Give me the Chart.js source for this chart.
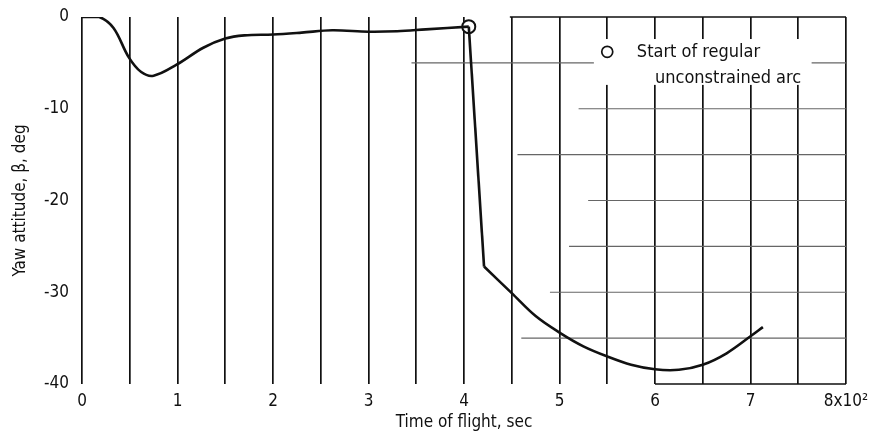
<!DOCTYPE html>
<html>
<head>
<meta charset="utf-8">
<script src="https://cdn.jsdelivr.net/npm/chart.js@4.4.1/dist/chart.umd.min.js"></script>
<style>
  html, body { margin: 0; padding: 0; background: #fff; }
  #wrap { width: 880px; height: 440px; }
</style>
</head>
<body>
<div id="wrap"><canvas id="myChart" width="880" height="440"></canvas></div>
<script>
// time of flight in units of 10^2 sec, yaw attitude in deg
const constrainedTime = [0, 0.18, 0.33, 0.49, 0.62, 0.75, 0.99, 1.27, 1.5, 1.7, 2.0, 2.3, 2.62, 3.0, 3.3, 3.6, 4.05];
const constrainedYaw  = [0, 0, -1.2, -4.4, -6.0, -6.4, -5.2, -3.35, -2.35, -2.0, -1.9, -1.7, -1.45, -1.6, -1.55, -1.35, -1.05];

const jumpTime = [4.05, 4.21];
const jumpYaw  = [-1.05, -27.2];

const arcTime = [4.21, 4.5, 4.75, 5.0, 5.25, 5.5, 5.75, 6.0, 6.25, 6.5, 6.75, 7.0, 7.13];
const arcYaw  = [-27.2, -30.1, -32.6, -34.4, -35.9, -37.0, -37.9, -38.4, -38.45, -37.9, -36.65, -34.8, -33.8];

const startTime = [4.05];
const startYaw  = [-1.05];

const xTickLabels = ['0', '1', '2', '3', '4', '5', '6', '7', '8x10\u00B2'];
const yTickValues = [0, -10, -20, -30, -40];

const legendText = ['Start of regular', 'unconstrained arc'];

const FONT = "'Liberation Sans Narrow', 'DejaVu Sans Condensed', 'Arial Narrow', sans-serif";

const toPoints = (xs, ys) => xs.map((x, i) => ({ x: x, y: ys[i] }));

// partial horizontal rules, like on the original graph paper: [yValue, startX]
const hRules = [[-5, 3.45], [-10, 5.2], [-15, 4.56], [-20, 5.3], [-25, 5.1], [-30, 4.9], [-35, 4.6]];

const paperPlugin = {
  id: 'paper',
  beforeDatasetsDraw(chart) {
    const { ctx, scales: { x, y } } = chart;
    ctx.save();
    ctx.strokeStyle = '#666';
    ctx.lineWidth = 1.2;
    hRules.forEach(([v, from]) => {
      ctx.beginPath();
      ctx.moveTo(x.getPixelForValue(from), y.getPixelForValue(v));
      ctx.lineTo(x.getPixelForValue(8), y.getPixelForValue(v));
      ctx.stroke();
    });
    ctx.strokeStyle = '#111';
    ctx.lineWidth = 1.6;
    ctx.beginPath();
    ctx.moveTo(x.getPixelForValue(4.48), y.getPixelForValue(0));
    ctx.lineTo(x.getPixelForValue(8), y.getPixelForValue(0));
    ctx.moveTo(x.getPixelForValue(6.0), y.getPixelForValue(-40));
    ctx.lineTo(x.getPixelForValue(8), y.getPixelForValue(-40));
    ctx.stroke();
    ctx.restore();
  },
  afterDatasetsDraw(chart) {
    const { ctx, scales: { x, y } } = chart;
    ctx.save();
    // white patch behind the key
    const l = x.getPixelForValue(5.36), r = x.getPixelForValue(7.64);
    const t = y.getPixelForValue(-2.4), b = y.getPixelForValue(-7.4);
    ctx.fillStyle = '#fff';
    ctx.fillRect(l, t, r - l, b - t);
    // key symbol
    ctx.strokeStyle = '#111';
    ctx.lineWidth = 1.7;
    ctx.beginPath();
    ctx.arc(x.getPixelForValue(5.5), y.getPixelForValue(-3.8), 5.5, 0, Math.PI * 2);
    ctx.stroke();
    ctx.fillStyle = '#111';
    ctx.font = '18px ' + FONT;
    ctx.textBaseline = 'middle';
    ctx.textAlign = 'left';
    ctx.fillText(legendText[0], x.getPixelForValue(5.81), y.getPixelForValue(-3.85));
    ctx.fillText(legendText[1], x.getPixelForValue(6.0), y.getPixelForValue(-6.7));
    ctx.restore();
  }
};

const grafico = document.querySelector('#myChart');

const data = {
  datasets: [
    {
      label: 'constrained',
      data: toPoints(constrainedTime, constrainedYaw),
      borderColor: '#111',
      borderWidth: 2.6,
      pointRadius: 0,
      tension: 0.35,
      fill: false
    },
    {
      label: 'jump',
      data: toPoints(jumpTime, jumpYaw),
      borderColor: '#111',
      borderWidth: 2.6,
      pointRadius: 0,
      fill: false
    },
    {
      label: 'unconstrained',
      data: toPoints(arcTime, arcYaw),
      borderColor: '#111',
      borderWidth: 2.6,
      pointRadius: 0,
      tension: 0.35,
      fill: false
    },
    {
      label: 'Start of regular unconstrained arc',
      data: toPoints(startTime, startYaw),
      showLine: false,
      pointRadius: 6.5,
      pointBorderWidth: 2,
      pointBackgroundColor: '#fff',
      pointBorderColor: '#111'
    }
  ]
};

const config = {
  type: 'line',
  data: data,
  plugins: [paperPlugin],
  options: {
    responsive: false,
    animation: false,
    layout: { padding: { top: 17, right: 34, left: 0, bottom: 0 } },
    plugins: {
      legend: { display: false },
      tooltip: { enabled: false }
    },
    scales: {
      x: {
        type: 'linear',
        min: 0,
        max: 8,
        afterFit: (s) => { s.height = 56; },
        afterBuildTicks: (s) => {
          const t = [];
          for (let i = 0; i <= 16; i++) t.push({ value: i / 2 });
          s.ticks = t;
        },
        ticks: {
          autoSkip: false,
          maxRotation: 0,
          padding: 7,
          color: '#111',
          font: { family: FONT, size: 17 },
          callback: (v) => Number.isInteger(v) ? xTickLabels[v] : ''
        },
        grid: { color: '#111', lineWidth: 1.7, drawTicks: false },
        border: { display: false },
        title: {
          display: true,
          text: 'Time of flight, sec',
          color: '#111',
          font: { family: FONT, size: 17 },
          padding: { top: 0, bottom: 7 }
        }
      },
      y: {
        type: 'linear',
        min: -40,
        max: 0,
        afterFit: (s) => { s.width = 82; },
        afterBuildTicks: (s) => { s.ticks = yTickValues.map(v => ({ value: v })); },
        ticks: {
          padding: 5,
          color: '#111',
          font: { family: FONT, size: 17 }
        },
        grid: { display: false },
        border: { display: false },
        title: {
          display: true,
          text: 'Yaw attitude, \u03B2, deg',
          color: '#111',
          font: { family: FONT, size: 17 },
          padding: { top: 10, bottom: 0 }
        }
      }
    }
  }
};

new Chart(grafico, config);
</script>
</body>
</html>
